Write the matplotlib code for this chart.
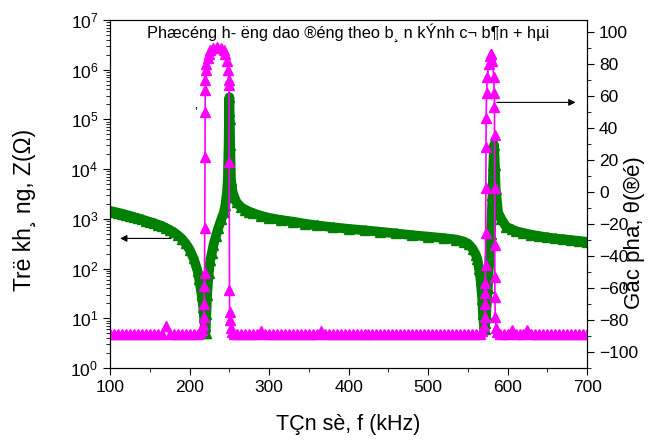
import numpy as np
import matplotlib
matplotlib.use("Agg")
from matplotlib import pyplot as plt
from matplotlib.ticker import MultipleLocator, LogLocator

plt.rcParams['font.family'] = ['Liberation Sans', 'DejaVu Sans']
plt.rcParams['mathtext.fontset'] = 'custom'
plt.rcParams['mathtext.rm'] = 'Liberation Sans'
plt.rcParams['mathtext.it'] = 'Liberation Sans'

# impedance |Z| (ohm) vs frequency (kHz), as (f, Z)
z_pts = [(100, 1450), (105, 1390), (110, 1330), (115, 1270), (120, 1210),
         (125, 1150), (130, 1090), (135, 1030), (140, 975), (145, 920),
         (150, 870), (155, 820), (160, 770), (165, 720), (170, 660),
         (175, 600), (180, 540), (185, 470), (190, 400), (195, 320),
         (200, 240), (205, 160), (210, 90), (212, 61), (215, 30), (217, 17),
         (218, 11), (219, 7), (219.5, 5), (220, 5), (221, 12), (222, 30),
         (224, 80), (226, 150), (228, 210), (230, 300), (233, 450),
         (236, 650), (240, 1000), (243, 1350), (245, 1900), (247, 3500),
         (248, 6000), (249, 30000), (249.5, 150000), (250, 280000),
         (250.5, 100000), (251, 30000), (252, 6000), (254, 3500), (256, 2800),
         (259, 2150), (265, 1700), (270, 1530), (275, 1400), (280, 1300),
         (290, 1150), (300, 1050), (315, 950), (330, 880), (345, 800),
         (360, 740), (380, 680), (400, 630), (420, 590), (440, 550),
         (460, 510), (480, 470), (500, 440), (520, 410), (535, 385),
         (545, 350), (551, 310), (556, 250), (560, 190), (562, 155),
         (564, 100), (566, 60), (568, 25), (569, 12), (570, 8), (571, 6),
         (572, 8), (573, 12), (575, 40), (577, 150), (579, 500), (581, 3000),
         (582, 12000), (583, 31000), (584, 12000), (585, 4000), (588, 1350),
         (592, 1000), (598, 700), (605, 620), (610, 570), (620, 520),
         (630, 480), (640, 450), (650, 425), (660, 405), (670, 390),
         (680, 375), (690, 360), (700, 345)]

# phase (degrees) vs frequency (kHz), as (f, theta)
p_pts = [(100, -89), (105, -89), (110, -89), (115, -89), (120, -89),
         (125, -89), (130, -89), (135, -89), (140, -89), (145, -89),
         (150, -89), (155, -89), (160, -89), (165, -88.5), (170, -84),
         (175, -88.5), (180, -89), (185, -89), (190, -89), (195, -89),
         (200, -89), (205, -89), (210, -88.5), (213, -87.5), (215, -86),
         (216.5, -83), (217.5, -78), (218.2, -70), (218.6, -59),
         (218.8, -50.6), (219.0, -22.5), (219.2, 22), (219.4, 50),
         (219.6, 64), (219.8, 70), (220.3, 76), (221, 80), (222.5, 84),
         (224, 86.5), (226, 88.5), (230, 90), (235, 90.5), (240, 90),
         (243, 88.5), (245, 86), (247, 82), (248.5, 76), (249.3, 70),
         (249.6, 67), (249.8, 19), (250.0, -61), (250.2, -75), (250.5, -80),
         (251.5, -85), (253, -87.5), (256, -88.5), (260, -89), (265, -88.5),
         (270, -89), (275, -89), (280, -89), (285, -89), (290, -87),
         (295, -89), (300, -89), (305, -89), (310, -89), (315, -89),
         (320, -89), (325, -89), (330, -89), (335, -89), (340, -89),
         (345, -89), (350, -89), (355, -89), (360, -89), (365, -87),
         (370, -89), (375, -89), (380, -89), (385, -89), (390, -89),
         (395, -89), (400, -89), (405, -89), (410, -89), (415, -89),
         (420, -89), (425, -89), (430, -89), (435, -89), (440, -89),
         (445, -89), (450, -89), (455, -89), (460, -89), (465, -89),
         (470, -89), (475, -89), (480, -89), (485, -89), (490, -89),
         (495, -89), (500, -89), (505, -89), (510, -89), (515, -89),
         (520, -89), (525, -89), (530, -89), (535, -89), (540, -89),
         (545, -89), (550, -89), (555, -89), (560, -89), (565, -88.5),
         (568, -87), (570, -84), (571, -78), (571.5, -70), (571.8, -63),
         (572.0, -57), (572.2, -45.6), (572.4, -25.6), (572.6, 2.5),
         (572.8, 28), (573.0, 46), (573.5, 62), (574.5, 72), (576, 80),
         (577.5, 85), (578.5, 86.5), (579.5, 86), (581, 82), (582.5, 72),
         (583.2, 62), (583.5, 53), (583.6, 35.6), (583.7, 2.5),
         (583.8, -33), (583.9, -53), (584.0, -65.6), (584.5, -78),
         (585.5, -85), (587, -87.5), (590, -88.5), (595, -89), (600, -89),
         (605, -86), (610, -89), (615, -89), (620, -89), (625, -86),
         (630, -89), (635, -89), (640, -89), (645, -89), (650, -89),
         (655, -89), (660, -89), (665, -89), (670, -89), (675, -89),
         (680, -89), (685, -89), (690, -89), (695, -89), (700, -89)]

f_z = [p[0] for p in z_pts]
z_val = [p[1] for p in z_pts]
f_p = [p[0] for p in p_pts]
p_val = [p[1] for p in p_pts]

title_txt = "Phæcéng h- ëng dao ®éng theo b¸ n kÝnh c¬ b¶n + hµi"
green = "#008000"
magenta = "#FF00FF"

fig = plt.figure(figsize=(6.48, 4.44), dpi=100)
ax = fig.add_axes([0.170, 0.171, 0.736, 0.784])
ax.plot(f_z, z_val, color=green, lw=7, marker='^', ms=7, mec=green, mfc=green)
ax.set_yscale('log')
ax.set_xlim(100, 700)
ax.set_ylim(1, 1e7)
ax.xaxis.set_major_locator(MultipleLocator(100))
ax.xaxis.set_minor_locator(MultipleLocator(50))
ax.yaxis.set_major_locator(LogLocator(base=10, numticks=10))
ax.yaxis.set_minor_locator(LogLocator(base=10, subs=np.arange(2, 10), numticks=20))
ax.tick_params(which='both', direction='out', labelsize=12.5, right=False, top=False)
ax.tick_params(which='major', length=5)
ax.tick_params(which='minor', length=3)
ax.set_xlabel("TÇn sè, f (kHz)", fontsize=15.5, labelpad=14)
ax.set_ylabel("Trë kh¸ ng, Z(Ω)", fontsize=16.5)
ax.yaxis.set_label_coords(-0.155, 0.454)

ax2 = ax.twinx()
ax2.plot(f_p, p_val, color=magenta, lw=1.2, marker='^', ms=7, mec=magenta, mfc=magenta)
ax2.set_ylim(-110, 107.5)
ax2.yaxis.set_major_locator(MultipleLocator(20))
ax2.yaxis.set_minor_locator(MultipleLocator(10))
ax2.tick_params(which='both', direction='out', labelsize=12.5)
ax2.tick_params(which='major', length=5)
ax2.tick_params(which='minor', length=3)
ax2.set_ylabel("Gãc pha, θ(®é)", fontsize=16)
ax2.yaxis.set_label_coords(1.078, 0.388)

ax2.text(0.5, 0.963, title_txt, transform=ax.transAxes, ha='center', va='center',
         fontsize=11.8)
ax.annotate("", xy=(109, 405), xytext=(180, 405),
            arrowprops=dict(arrowstyle='-|>', color='black', lw=0.8))
ax2.annotate("", xy=(689, 56), xytext=(583, 56),
             arrowprops=dict(arrowstyle='-|>', color='black', lw=0.8))
ax.text(206, 1.3e5, "ʼ", fontsize=10, va='center')

fig.savefig("out.png", dpi=100)
